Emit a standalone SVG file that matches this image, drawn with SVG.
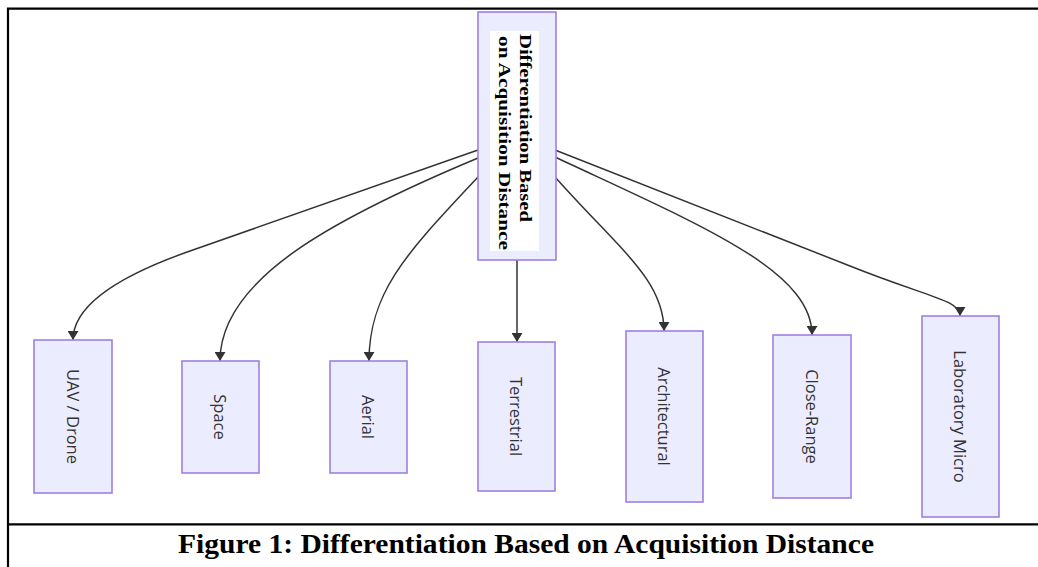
<svg xmlns="http://www.w3.org/2000/svg" width="1038" height="567" viewBox="0 0 1038 567">
<defs>
<style>
.frame{stroke:#000;stroke-width:2.2;fill:none}
.node rect.box{fill:#ECECFF;stroke:#9F80E2;stroke-width:1.6}
.lbl{font-family:"Open Sans","Liberation Sans",sans-serif;font-size:16.5px;fill:#333;text-anchor:middle;dominant-baseline:central}
.ttl{font-family:"Liberation Serif","Times New Roman",serif;font-weight:bold;font-size:17px;fill:#000}
.edge{fill:none;stroke:#333;stroke-width:1.5;marker-end:url(#arrow)}
.cap{font-family:"Liberation Serif","Times New Roman",serif;font-weight:bold;font-size:28px;fill:#000;text-anchor:middle}
</style>
<marker id="arrow" viewBox="0 0 10 10" refX="10" refY="5" markerUnits="userSpaceOnUse" markerWidth="9" markerHeight="11" orient="auto" preserveAspectRatio="none">
<path d="M0,0 L10,5 L0,10 z" fill="#333"/>
</marker>
</defs>
<rect width="1038" height="567" fill="#fff"/>
<g id="frame">
<path class="frame" d="M8,567 L8,8.7 L1038,8.7"/>
<path class="frame" d="M8,524.3 L1038,524.3"/>
</g>
<g id="connectors">
<path class="edge" d="M478,150 L190,251 Q73,292 73,340"/>
<path class="edge" d="M478,158 C330,220 220,280 220,361"/>
<path class="edge" d="M478,177 C410,250 369,290 369,361"/>
<path class="edge" d="M517,260 L517,342"/>
<path class="edge" d="M555,177 C620,250 664,280 664,331"/>
<path class="edge" d="M555,157 C700,225 812,270 812,335"/>
<path class="edge" d="M555,150 L850,266 C930,298 960,300 960,316"/>
</g>
<g id="root" class="node">
<rect class="box" x="478" y="12" width="78" height="248"/>
<rect x="490" y="31" width="49" height="220" fill="#fff"/>
<text class="ttl" transform="translate(520,34) rotate(90)" textLength="188" lengthAdjust="spacingAndGlyphs">Differentiation Based</text>
<text class="ttl" transform="translate(499,36) rotate(90)" textLength="214" lengthAdjust="spacingAndGlyphs">on Acquisition Distance</text>
</g>
<g id="uav" class="node">
<rect class="box" x="34" y="340" width="78" height="153"/>
<text class="lbl" transform="translate(73,416.5) rotate(90)">UAV / Drone</text>
</g>
<g id="space" class="node">
<rect class="box" x="182" y="361" width="77" height="112"/>
<text class="lbl" transform="translate(220.5,417) rotate(90)">Space</text>
</g>
<g id="aerial" class="node">
<rect class="box" x="330" y="361" width="77" height="112"/>
<text class="lbl" transform="translate(368.5,417) rotate(90)">Aerial</text>
</g>
<g id="terrestrial" class="node">
<rect class="box" x="478" y="342" width="77" height="149"/>
<text class="lbl" transform="translate(516.5,416.5) rotate(90)">Terrestrial</text>
</g>
<g id="architectural" class="node">
<rect class="box" x="626" y="331" width="77" height="171"/>
<text class="lbl" transform="translate(664.5,416.5) rotate(90)">Architectural</text>
</g>
<g id="closerange" class="node">
<rect class="box" x="773" y="335" width="78" height="163"/>
<text class="lbl" transform="translate(812,416.5) rotate(90)">Close-Range</text>
</g>
<g id="labmicro" class="node">
<rect class="box" x="922" y="316" width="77" height="201"/>
<text class="lbl" transform="translate(960.5,416.5) rotate(90)">Laboratory Micro</text>
</g>
<g id="caption">
<text class="cap" x="526" y="553" textLength="696" lengthAdjust="spacingAndGlyphs">Figure 1: Differentiation Based on Acquisition Distance</text>
</g>
</svg>
